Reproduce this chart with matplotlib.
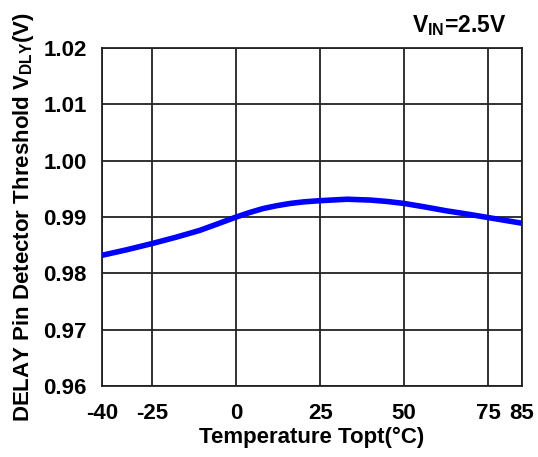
import matplotlib.pyplot as plt

# Data
temp = [-40, -32.5, -25, -18, -11, -5, 0, 4, 8, 12, 16, 20, 25, 33, 40,
        45, 50, 56, 62.5, 69, 75, 80, 85]
vdly = [0.9832, 0.9842, 0.9853, 0.9864, 0.9876, 0.9889, 0.9900, 0.9908,
        0.99150, 0.9920, 0.99240, 0.99268, 0.9929, 0.99315, 0.9930,
        0.99275, 0.9924, 0.9918, 0.9911, 0.9905, 0.9899, 0.9894, 0.9889]

xticks = [-40, -25, 0, 25, 50, 75, 85]
yticks = [0.96, 0.97, 0.98, 0.99, 1.00, 1.01, 1.02]

plt.rcParams['font.family'] = 'Liberation Sans'
plt.rcParams['font.weight'] = 'bold'
plt.rcParams['axes.labelweight'] = 'bold'
plt.rcParams['mathtext.fontset'] = 'custom'
plt.rcParams['mathtext.rm'] = 'Liberation Sans:bold'
plt.rcParams['mathtext.default'] = 'rm'

fig = plt.figure(figsize=(5.38, 4.57), dpi=100)
ax = fig.add_axes([0.1896, 0.1554, 0.7801, 0.7396])

ax.plot(temp, vdly, color='#0000ff', linewidth=4, solid_capstyle='butt',
        solid_joinstyle='round', zorder=3)

ax.set_xlim(-40, 85)
ax.set_ylim(0.96, 1.02)
ax.set_xticks(xticks)
ax.set_yticks(yticks)
ax.set_xticklabels([str(t) for t in xticks])
ax.set_yticklabels(['%.2f' % v for v in yticks])
ax.tick_params(length=0, labelsize=16)
ax.tick_params(axis='x', pad=12)
ax.tick_params(axis='y', pad=11)

ax.grid(True, color='#222222', linewidth=1.3)
for s in ax.spines.values():
    s.set_color('#222222')
    s.set_linewidth(1.3)

ax.set_xlabel('Temperature Topt(°C)', fontsize=16, labelpad=2)
ax.set_ylabel(r'DELAY Pin Detector Threshold V$_{DLY}$(V)', fontsize=16, labelpad=5)

fig.text(0.942, 0.945, r'V$_{IN}$=2.5V', fontsize=16.5, ha='right', va='center')

plt.savefig('out.png', dpi=100)
